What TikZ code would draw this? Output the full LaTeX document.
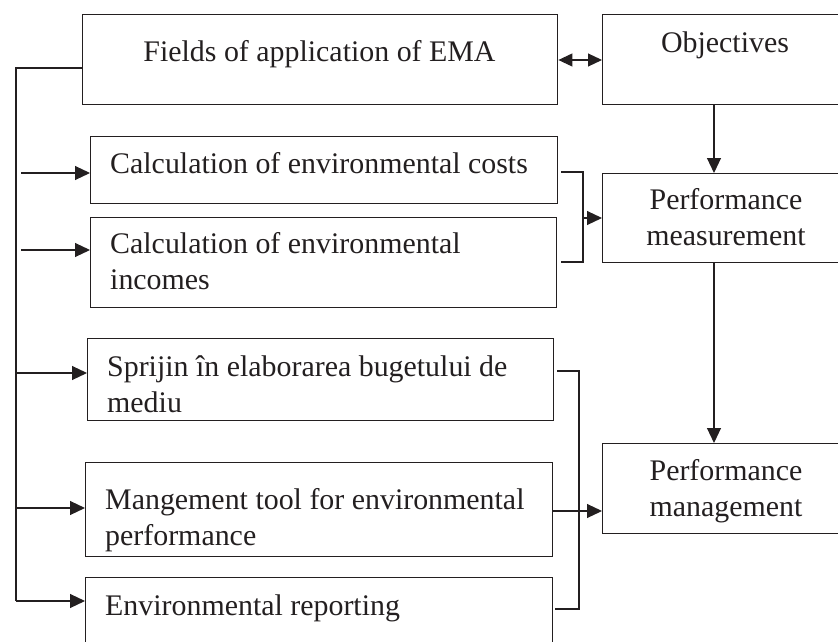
\documentclass[tikz,border=0pt]{standalone}
\usepackage{fontspec}
\setmainfont{Liberation Serif}
\usetikzlibrary{arrows.meta,calc}
\definecolor{ink}{HTML}{231F20}
\tikzset{
  box/.style={draw=ink, line width=1.4pt, rectangle, inner sep=0pt},
  conn/.style={draw=ink, line width=1.1pt},
  arr/.style={conn, -{Triangle[length=15pt,width=14pt]}},
  darr/.style={conn, {Triangle[length=14pt,width=13pt]}-{Triangle[length=14pt,width=13pt]}},
  txt/.style={text=ink, inner sep=0pt, font=\fontsize{29.9}{36}\selectfont},
  ltxt/.style={txt, anchor=base west, align=left},
  ctxt/.style={txt, anchor=base, align=center}
}
\begin{document}
\begin{tikzpicture}[x=1pt,y=-1pt]
\useasboundingbox (0,0) rectangle (838,642);
\clip (0,0) rectangle (838,642);
% boxes
\node[box, minimum width=475pt, minimum height=90pt, anchor=north west] (fields) at (82,14) {};
\node[box, minimum width=248pt, minimum height=90pt, anchor=north west] (obj) at (602,14) {};
\node[box, minimum width=467pt, minimum height=67pt, anchor=north west] (costs) at (90,136) {};
\node[box, minimum width=466pt, minimum height=90pt, anchor=north west] (inc) at (90,217) {};
\node[box, minimum width=466pt, minimum height=82pt, anchor=north west] (bud) at (87,338) {};
\node[box, minimum width=467pt, minimum height=94pt, anchor=north west] (tool) at (85,462) {};
\node[box, minimum width=467pt, minimum height=80pt, anchor=north west] (rep) at (85,577) {};
\node[box, minimum width=248pt, minimum height=89pt, anchor=north west] (meas) at (602,173) {};
\node[box, minimum width=248pt, minimum height=90pt, anchor=north west] (mgmt) at (602,443) {};
% texts (base anchor = last line baseline)
\node[ctxt] (tfields) at (319.5,62) {Fields of application of EMA};
\node[ctxt] (tobj) at (725,53) {Objectives};
\node[ltxt] (tcosts) at (110,173) {Calculation of environmental costs};
\node[ltxt] (tinc) at (110,289) {Calculation of environmental\\incomes};
\node[ltxt] (tbud) at (107,412) {Sprijin în elaborarea bugetului de\\mediu};
\node[ltxt] (ttool) at (105,545) {Mangement tool for environmental\\performance};
\node[ltxt] (trep) at (105,615) {Environmental reporting};
\node[ctxt] (tmeas) at (726,245) {Performance\\measurement};
\node[ctxt] (tmgmt) at (726,516) {Performance\\management};
% coordinates
\coordinate (sp0) at (16,68);
\coordinate (sp1) at (16,601);
\coordinate (b1) at (583,218);
\coordinate (b2) at (579,511);
% left spine
\draw[conn] (fields.west |- sp0) -- (sp0) -- (sp1);
\draw[arr] (21,173) -- (costs.west |- 0,173);
\draw[arr] (21,250) -- (inc.west |- 0,250);
\draw[arr] (16,373) -- (bud.west |- 0,373);
\draw[arr] (16,508) -- (tool.west |- 0,508);
\draw[arr] (sp1) -- (rep.west |- sp1);
% double arrow
\draw[darr] (fields.east |- 0,60) -- (obj.west |- 0,60);
% vertical arrows
\draw[arr] (obj.south -| 714,0) -- (meas.north -| 714,0);
\draw[arr] (meas.south -| 714,0) -- (mgmt.north -| 714,0);
% bracket 1
\draw[conn] (561,172) -| (b1) |- (561,262);
\draw[arr] (b1) -- (meas.west |- b1);
% bracket 2
\draw[conn] (557,371) -| (b2) |- (555,609);
\draw[conn] (tool.east |- b2) -- (b2);
\draw[arr] (b2) -- (mgmt.west |- b2);
\end{tikzpicture}
\end{document}
